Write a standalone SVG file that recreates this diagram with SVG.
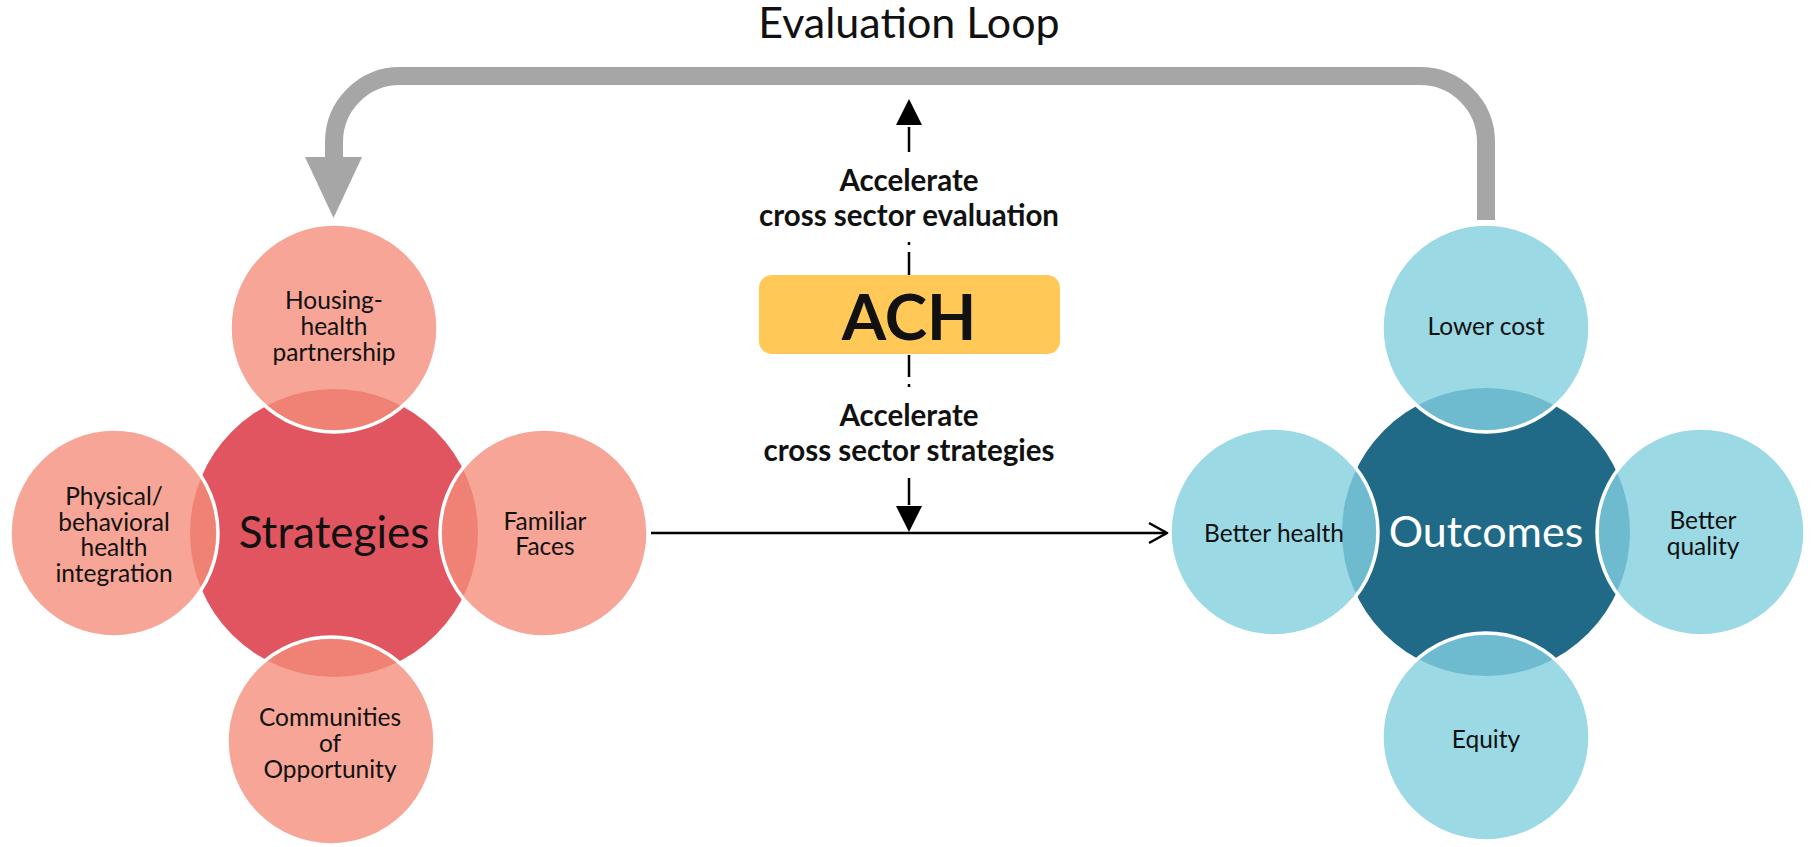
<svg xmlns="http://www.w3.org/2000/svg" width="1816" height="847" viewBox="0 0 1816 847">
<style>
  text { font-family: Lato, "Open Sans", "Liberation Sans", sans-serif; text-anchor: middle; fill: #111; }
  .sat-s { fill: #F6A596; stroke: #fff; stroke-width: 3.5; }
  .ov-s { fill: #EF8274; }
  .sat-o { fill: #9BD9E5; stroke: #fff; stroke-width: 3.5; }
  .ov-o { fill: #6EBACE; }
  .lbl { font-size: 24.5px; }
  .big { font-size: 44px; }
  .acc { font-size: 29.5px; font-weight: bold; }
  .dash { stroke: #000; stroke-width: 2.5; fill: none; }
</style>
<defs>
  <clipPath id="c-top-s"><circle cx="334" cy="328" r="102"/></clipPath>
  <clipPath id="c-left-s"><circle cx="114" cy="533" r="102"/></clipPath>
  <clipPath id="c-right-s"><circle cx="544" cy="533" r="102"/></clipPath>
  <clipPath id="c-bot-s"><circle cx="331" cy="741" r="102"/></clipPath>
  <clipPath id="c-top-o"><circle cx="1486" cy="328" r="102"/></clipPath>
  <clipPath id="c-left-o"><circle cx="1274" cy="532" r="102"/></clipPath>
  <clipPath id="c-right-o"><circle cx="1701" cy="532" r="102"/></clipPath>
  <clipPath id="c-bot-o"><circle cx="1486" cy="737" r="102"/></clipPath>
</defs>

<text x="909" y="38" style="font-size:43px">Evaluation Loop</text>

<g id="connectors">
  <path d="M1486,220 V142 A66,66 0 0 0 1420,76 H400 A66,66 0 0 0 334,142 V158" fill="none" stroke="#A6A6A6" stroke-width="18"/>
  <polygon points="305,157 362,157 333.5,218" fill="#A6A6A6"/>
  <line x1="651" y1="533" x2="1166" y2="533" stroke="#000" stroke-width="2.5"/>
  <polyline points="1149,523 1167,533 1149,543" fill="none" stroke="#000" stroke-width="2.5"/>
  <polygon points="909,99 896,125 922,125" fill="#000"/>
  <line class="dash" x1="909" y1="127" x2="909" y2="152"/>
  <line class="dash" x1="909" y1="242" x2="909" y2="245"/>
  <line class="dash" x1="909" y1="252" x2="909" y2="275"/>
  <line class="dash" x1="909" y1="355" x2="909" y2="377"/>
  <line class="dash" x1="909" y1="384" x2="909" y2="387"/>
  <line class="dash" x1="909" y1="478" x2="909" y2="505"/>
  <polygon points="909,532 896,506 922,506" fill="#000"/>
</g>

<g id="strategies">
  <circle cx="334" cy="533" r="144" fill="#E0555F"/>
  <text class="big" x="334" y="548">Strategies</text>
</g>
<g id="housing">
  <circle class="sat-s" cx="334" cy="328" r="104"/>
  <circle class="ov-s" cx="334" cy="533" r="144" clip-path="url(#c-top-s)"/>
  <text class="lbl" x="334" y="309">Housing-</text>
  <text class="lbl" x="334" y="335">health</text>
  <text class="lbl" x="334" y="361">partnership</text>
</g>
<g id="physical">
  <circle class="sat-s" cx="114" cy="533" r="104"/>
  <circle class="ov-s" cx="334" cy="533" r="144" clip-path="url(#c-left-s)"/>
  <text class="lbl" x="114" y="505">Physical/</text>
  <text class="lbl" x="114" y="531">behavioral</text>
  <text class="lbl" x="114" y="556">health</text>
  <text class="lbl" x="114" y="582">integration</text>
</g>
<g id="familiar">
  <circle class="sat-s" cx="544" cy="533" r="104"/>
  <circle class="ov-s" cx="334" cy="533" r="144" clip-path="url(#c-right-s)"/>
  <text class="lbl" x="545" y="530">Familiar</text>
  <text class="lbl" x="545" y="555">Faces</text>
</g>
<g id="communities">
  <circle class="sat-s" cx="331" cy="741" r="104"/>
  <circle class="ov-s" cx="334" cy="533" r="144" clip-path="url(#c-bot-s)"/>
  <text class="lbl" x="330" y="726">Communities</text>
  <text class="lbl" x="330" y="752">of</text>
  <text class="lbl" x="330" y="778">Opportunity</text>
</g>

<g id="outcomes">
  <circle cx="1486" cy="532" r="144" fill="#216A87"/>
  <text x="1486" y="547" style="fill:#fff;font-size:43px">Outcomes</text>
</g>
<g id="lower-cost">
  <circle class="sat-o" cx="1486" cy="328" r="104"/>
  <circle class="ov-o" cx="1486" cy="532" r="144" clip-path="url(#c-top-o)"/>
  <text class="lbl" x="1486" y="335">Lower cost</text>
</g>
<g id="better-health">
  <circle class="sat-o" cx="1274" cy="532" r="104"/>
  <circle class="ov-o" cx="1486" cy="532" r="144" clip-path="url(#c-left-o)"/>
  <text class="lbl" x="1274" y="542">Better health</text>
</g>
<g id="better-quality">
  <circle class="sat-o" cx="1701" cy="532" r="104"/>
  <circle class="ov-o" cx="1486" cy="532" r="144" clip-path="url(#c-right-o)"/>
  <text class="lbl" x="1703" y="529">Better</text>
  <text class="lbl" x="1703" y="555">quality</text>
</g>
<g id="equity">
  <circle class="sat-o" cx="1486" cy="737" r="104"/>
  <circle class="ov-o" cx="1486" cy="532" r="144" clip-path="url(#c-bot-o)"/>
  <text class="lbl" x="1486" y="748">Equity</text>
</g>

<g id="ach">
  <rect x="759" y="275" width="301" height="79" rx="13" fill="#FFC857"/>
  <text x="909" y="340" style="font-size:64px;font-weight:bold">ACH</text>
</g>
<g id="label-eval">
  <text class="acc" x="909" y="191">Accelerate</text>
  <text class="acc" x="909" y="226">cross sector evaluation</text>
</g>
<g id="label-strat">
  <text class="acc" x="909" y="426">Accelerate</text>
  <text class="acc" x="909" y="461">cross sector strategies</text>
</g>
</svg>
